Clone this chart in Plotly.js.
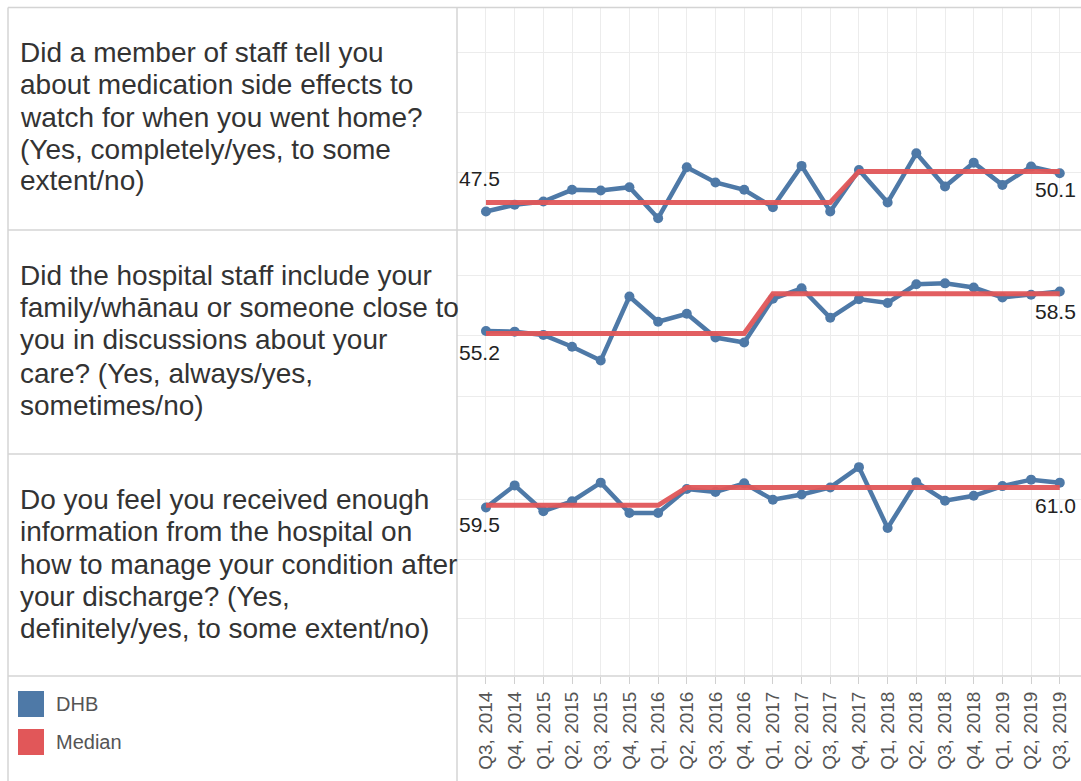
<!DOCTYPE html>
<html>
<head>
<meta charset="utf-8">
<script src="https://cdn.plot.ly/plotly-3.0.1.min.js"></script>
<style>
html,body{margin:0;padding:0;background:#fff;}
#chart{width:1081px;height:781px;}
</style>
</head>
<body>
<div id="chart"></div>
<script>
// ---- data ----
const categories = ["Q3, 2014","Q4, 2014","Q1, 2015","Q2, 2015","Q3, 2015","Q4, 2015","Q1, 2016","Q2, 2016","Q3, 2016","Q4, 2016","Q1, 2017","Q2, 2017","Q3, 2017","Q4, 2017","Q1, 2018","Q2, 2018","Q3, 2018","Q4, 2018","Q1, 2019","Q2, 2019","Q3, 2019"];

const dhbSideEffects = [46.75,47.31,47.58,48.56,48.5,48.78,46.19,50.44,49.17,48.56,47.11,50.56,46.75,50.22,47.5,51.61,48.83,50.83,48.97,50.5,49.94];
const medianSideEffects = [47.5,47.5,47.5,47.5,47.5,47.5,47.5,47.5,47.5,47.5,47.5,47.5,47.5,50.1,50.1,50.1,50.1,50.1,50.1,50.1,50.1];

const dhbFamily = [55.42,55.36,55.09,54.11,52.96,58.28,56.18,56.84,54.87,54.46,58.09,58.96,56.51,58.06,57.74,59.29,59.37,59.02,58.2,58.42,58.69];
const medianFamily = [55.2,55.2,55.2,55.2,55.2,55.2,55.2,55.2,55.2,55.2,58.5,58.5,58.5,58.5,58.5,58.5,58.5,58.5,58.5,58.5,58.5];

const dhbInfo = [59.32,61.17,59.01,59.84,61.4,58.85,58.85,60.87,60.61,61.34,59.97,60.41,61.0,62.7,57.6,61.44,59.89,60.3,61.11,61.65,61.4];
const medianInfo = [59.5,59.5,59.5,59.5,59.5,59.5,59.5,61.0,61.0,61.0,61.0,61.0,61.0,61.0,61.0,61.0,61.0,61.0,61.0,61.0,61.0];

const q1Lines = ["Did a member of staff tell you","about medication side effects to","watch for when you went home?","(Yes, completely/yes, to some","extent/no)"];
const q2Lines = ["Did the hospital staff include your","family/whānau or someone close to","you in discussions about your","care? (Yes, always/yes,","sometimes/no)"];
const q3Lines = ["Do you feel you received enough","information from the hospital on","how to manage your condition after","your discharge? (Yes,","definitely/yes, to some extent/no)"];

const seriesNames = ["DHB","Median"];

// ---- styling / geometry ----
const W = 1081, H = 781;
const FONT = "Liberation Sans, Arial, sans-serif";
const BLUE = "#4e79a7", RED = "#e15759";
const px = v => v / W;
const py = v => 1 - v / H;
const yRange = [45.2, 63.8];

const panels = [
  {dhb: dhbSideEffects, med: medianSideEffects, lines: q1Lines, top: 7.5, bottom: 230, lineY: [53,85,117,149,181], labStart: 24, labEnd: -18},
  {dhb: dhbFamily, med: medianFamily, lines: q2Lines, top: 230, bottom: 454, lineY: [275,308,340,373,405], labStart: -18.5, labEnd: -18},
  {dhb: dhbInfo, med: medianInfo, lines: q3Lines, top: 454, bottom: 676, lineY: [499,531,564,596,628], labStart: -19.5, labEnd: -18.5}
];

const traces = [];
const annotations = [];
const layout = {
  width: W, height: H,
  margin: {l:0, r:0, t:0, b:0},
  paper_bgcolor: "#fff", plot_bgcolor: "#fff",
  showlegend: false,
  font: {family: FONT, color: "#333"},
  hovermode: false,
  shapes: [],
  annotations: annotations
};

panels.forEach((p, i) => {
  const n = i + 1;
  const xa = n === 1 ? "x" : "x" + n;
  const ya = n === 1 ? "y" : "y" + n;
  const xKey = n === 1 ? "xaxis" : "xaxis" + n;
  const yKey = n === 1 ? "yaxis" : "yaxis" + n;
  layout[xKey] = {
    domain: [px(457), 1], anchor: ya, type: "category",
    categoryorder: "array", categoryarray: categories,
    range: [-1.01, 20.74],
    showgrid: true, gridcolor: "#ececec", gridwidth: 1,
    zeroline: false, showline: false,
    showticklabels: n === 3,
    ticks: n === 3 ? "outside" : "", ticklen: 7, tickcolor: "#d0d0d0", tickwidth: 1,
    tickangle: -90,
    tickfont: {family: FONT, size: 19, color: "#555"},
    fixedrange: true
  };
  if (n > 1) layout[xKey].matches = "x";
  layout[yKey] = {
    domain: [py(p.bottom), py(p.top)], anchor: xa,
    range: yRange, dtick: 5, tick0: 0,
    showgrid: true, gridcolor: "#ececec", gridwidth: 1,
    zeroline: false, showline: false, showticklabels: false, ticks: "",
    fixedrange: true
  };
  traces.push({
    x: categories, y: p.dhb, xaxis: xa, yaxis: ya, name: seriesNames[0],
    type: "scatter", mode: "lines+markers",
    line: {color: BLUE, width: 4.5},
    marker: {color: BLUE, size: 10},
    cliponaxis: false
  });
  traces.push({
    x: categories, y: p.med, xaxis: xa, yaxis: ya, name: seriesNames[1],
    type: "scatter", mode: "lines",
    line: {color: RED, width: 5},
    opacity: 0.95
  });
  // median labels
  annotations.push({
    xref: xa, yref: ya, x: categories[0], y: p.med[0],
    text: p.med[0].toFixed(1), showarrow: false,
    xanchor: "left", yanchor: "middle", xshift: -29, yshift: p.labStart,
    font: {family: FONT, size: 21, color: "#222"}
  });
  const last = categories.length - 1;
  annotations.push({
    xref: xa, yref: ya, x: categories[last], y: p.med[last],
    text: p.med[last].toFixed(1), showarrow: false,
    xanchor: "right", yanchor: "middle", xshift: 18, yshift: p.labEnd,
    font: {family: FONT, size: 21, color: "#222"}
  });
  // question text
  p.lines.forEach((t, k) => {
    annotations.push({
      xref: "paper", yref: "paper", x: px(18), y: py(p.lineY[k]),
      text: t, showarrow: false, xanchor: "left", yanchor: "middle",
      font: {family: FONT, size: 28, color: "#333"}
    });
  });
});

// table borders
const BORDER = "#d4d4d4";
[7.5, 230, 454, 676].forEach(yy => {
  layout.shapes.push({type: "line", xref: "paper", yref: "paper",
    x0: px(8), x1: 1, y0: py(yy), y1: py(yy), line: {color: BORDER, width: 1.5}, layer: "above"});
});
[8, 457].forEach(xx => {
  layout.shapes.push({type: "line", xref: "paper", yref: "paper",
    x0: px(xx), x1: px(xx), y0: py(7.5), y1: 0, line: {color: BORDER, width: 1.5}, layer: "above"});
});

// legend
const legendColors = [BLUE, RED];
const legendY = [704, 742];
seriesNames.forEach((name, k) => {
  layout.shapes.push({type: "rect", xref: "paper", yref: "paper",
    x0: px(18), x1: px(44), y0: py(legendY[k] - 13), y1: py(legendY[k] + 13),
    fillcolor: legendColors[k], line: {width: 0}});
  annotations.push({xref: "paper", yref: "paper", x: px(54), y: py(legendY[k]),
    text: name, showarrow: false, xanchor: "left", yanchor: "middle",
    font: {family: FONT, size: 20, color: "#555"}});
});

Plotly.newPlot("chart", traces, layout, {displayModeBar: false, staticPlot: true});
</script>
</body>
</html>
